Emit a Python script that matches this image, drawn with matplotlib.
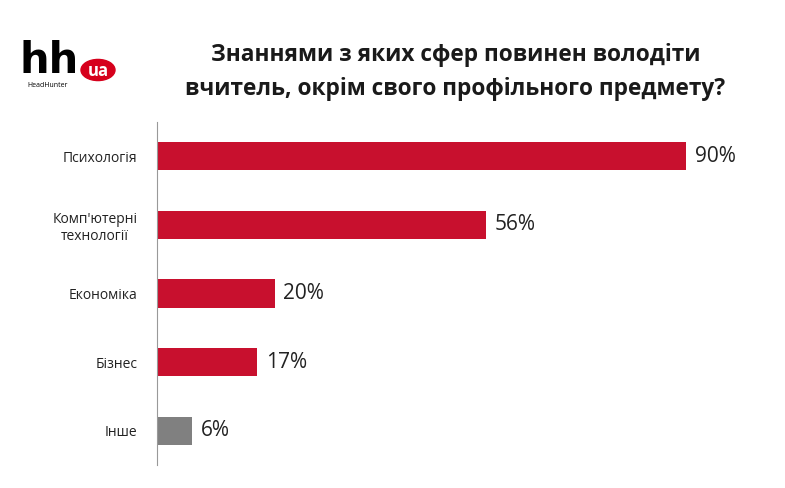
import matplotlib
matplotlib.use("Agg")
import matplotlib.pyplot as plt
from matplotlib.patches import Circle

categories = ["Психологія", "Комп'ютерні\nтехнології", "Економіка", "Бізнес", "Інше"]
values = [90, 56, 20, 17, 6]
colors = ["#c8102e", "#c8102e", "#c8102e", "#c8102e", "#808080"]

plt.rcParams['font.family'] = ['Open Sans', 'DejaVu Sans']
fig = plt.figure(figsize=(7.85, 4.88), dpi=100)
ax = fig.add_axes([0.2, 0.047, 0.749, 0.703])
y = list(range(len(categories)))
ax.barh(y, values, height=0.41, color=colors)
for yi, v in zip(y, values):
    ax.text(v + 1.5, yi, f"{v}%", va='center', ha='left', fontsize=15, color='#222222')
ax.set_yticks(y)
ax.set_yticklabels(categories, fontsize=10, color='#222222', multialignment='center')
ax.set_ylim(4.5, -0.5)
ax.set_xlim(0, 100)
ax.set_xticks([])
for s in ['top', 'right', 'bottom']:
    ax.spines[s].set_visible(False)
ax.spines['left'].set_color('#999999')
ax.tick_params(axis='y', length=0, pad=14)

fig.text(0.58, 0.852, "Знаннями з яких сфер повинен володіти\nвчитель, окрім свого профільного предмету?",
         ha='center', va='center', fontsize=16.3, fontweight='bold', color='#1a1a1a', linespacing=1.55)
# logo
fig.text(0.025, 0.875, "hh", fontsize=30, fontweight='bold', color='black', ha='left', va='center',
         family=['DejaVu Sans'])
fig.text(0.035, 0.825, "HeadHunter", fontsize=5, color='black', ha='left', va='center')
fig.patches.append(Circle((98/785, 1-70/488), 17/785, transform=fig.transFigure, color='#d6001c', figure=fig))
fig.text(98/785, 1-71/488, "ua", fontsize=12, fontweight='bold', color='white', ha='center', va='center')
fig.savefig("out.png", dpi=100)
